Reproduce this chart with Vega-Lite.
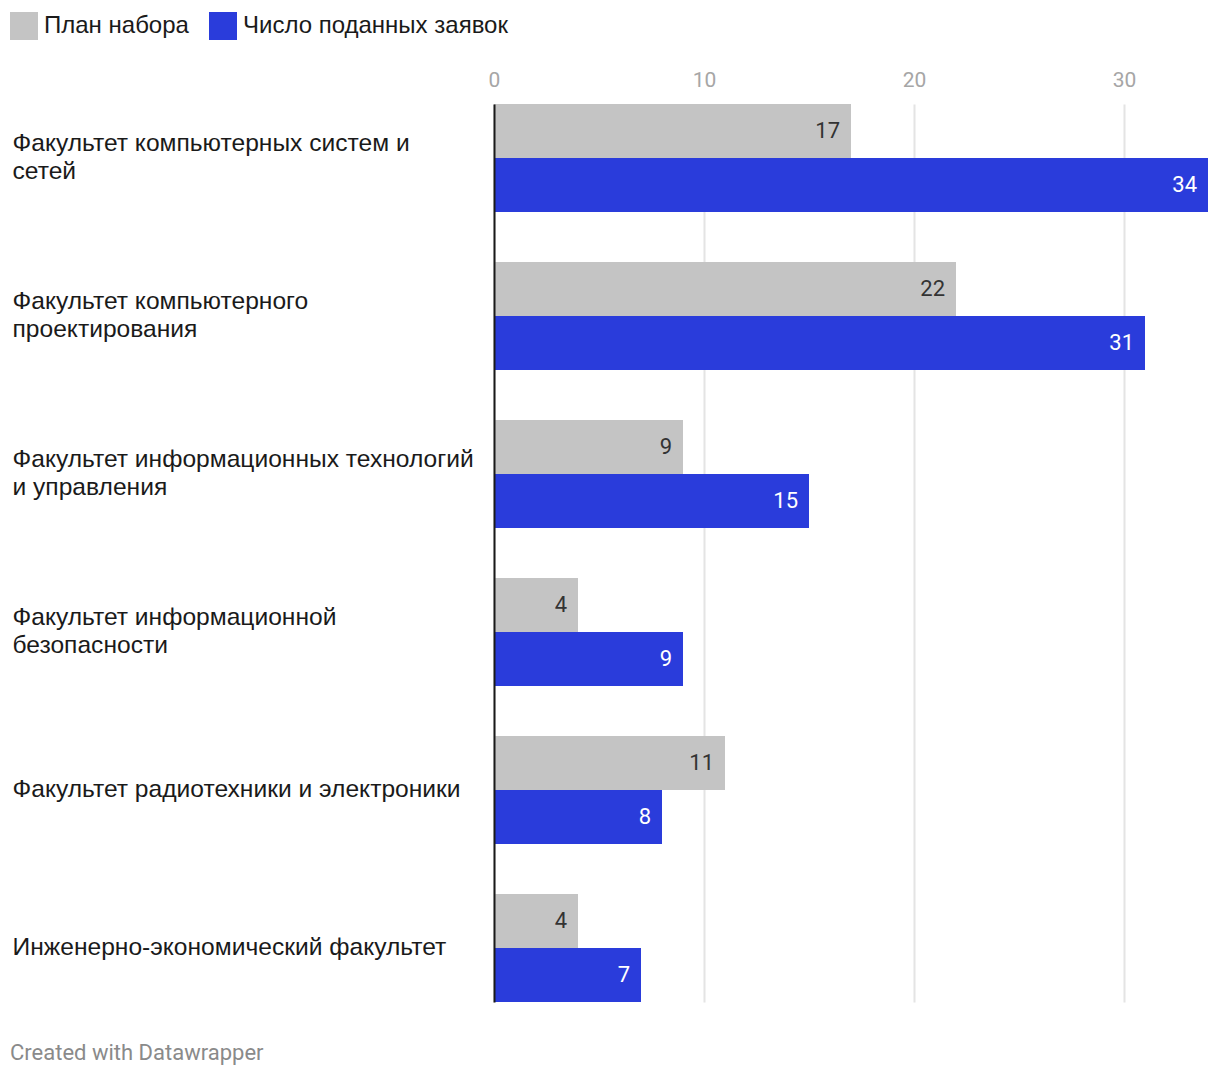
{
  "$schema": "https://vega.github.io/schema/vega-lite/v6.json",
  "autosize": "none",
  "width": 714,
  "height": 898,
  "padding": {"left": 494, "top": 104, "right": 12, "bottom": 78},
  "background": "white",
  "config": {
    "font": "Roboto",
    "view": {"stroke": null}
  },
  "title": {
    "text": "Created with Datawrapper",
    "orient": "bottom",
    "anchor": "start",
    "frame": "bounds",
    "fontSize": 22,
    "fontWeight": "normal",
    "color": "#8a8a8a",
    "font": "Roboto",
    "baseline": "top",
    "offset": 41,
    "dx": 0
  },
  "data": {
    "values": [
      {"faculty": "Факультет компьютерных систем и сетей", "series": "План набора", "value": 17},
      {"faculty": "Факультет компьютерных систем и сетей", "series": "Число поданных заявок", "value": 34},
      {"faculty": "Факультет компьютерного проектирования", "series": "План набора", "value": 22},
      {"faculty": "Факультет компьютерного проектирования", "series": "Число поданных заявок", "value": 31},
      {"faculty": "Факультет информационных технологий и управления", "series": "План набора", "value": 9},
      {"faculty": "Факультет информационных технологий и управления", "series": "Число поданных заявок", "value": 15},
      {"faculty": "Факультет информационной безопасности", "series": "План набора", "value": 4},
      {"faculty": "Факультет информационной безопасности", "series": "Число поданных заявок", "value": 9},
      {"faculty": "Факультет радиотехники и электроники", "series": "План набора", "value": 11},
      {"faculty": "Факультет радиотехники и электроники", "series": "Число поданных заявок", "value": 8},
      {"faculty": "Инженерно-экономический факультет", "series": "План набора", "value": 4},
      {"faculty": "Инженерно-экономический факультет", "series": "Число поданных заявок", "value": 7}
    ]
  },
  "encoding": {
    "y": {
      "field": "faculty",
      "type": "nominal",
      "sort": null,
      "title": null,
      "scale": {"paddingInner": 0.3165, "paddingOuter": 0},
      "axis": {
        "orient": "left",
        "zindex": 2,
        "domain": true,
        "domainColor": "#1a1a1a",
        "domainWidth": 2,
        "ticks": false,
        "grid": false,
        "labelAlign": "left",
        "labelBaseline": "middle",
        "labelPadding": 482,
        "labelFontSize": 24.6,
        "labelColor": "#1a1a1a",
        "labelFont": "Liberation Sans",
        "labelLimit": 0,
        "labelLineHeight": 28,
        "labelOffset": {
          "condition": {"test": "datum.label == 'Факультет радиотехники и электроники' || datum.label == 'Инженерно-экономический факультет'", "value": 0},
          "value": -14
        },
        "labelExpr": "datum.label == 'Факультет компьютерных систем и сетей' ? ['Факультет компьютерных систем и', 'сетей'] : datum.label == 'Факультет компьютерного проектирования' ? ['Факультет компьютерного', 'проектирования'] : datum.label == 'Факультет информационных технологий и управления' ? ['Факультет информационных технологий', 'и управления'] : datum.label == 'Факультет информационной безопасности' ? ['Факультет информационной', 'безопасности'] : datum.label"
      }
    },
    "yOffset": {
      "field": "series",
      "type": "nominal",
      "sort": ["План набора", "Число поданных заявок"],
      "scale": {"paddingInner": 0, "paddingOuter": 0}
    },
    "x": {
      "field": "value",
      "type": "quantitative",
      "title": null,
      "scale": {"domain": [0, 34], "nice": false},
      "axis": {
        "orient": "top",
        "zindex": 0,
        "values": [0, 10, 20, 30],
        "domain": false,
        "ticks": false,
        "grid": true,
        "gridColor": "#e4e4e4",
        "gridWidth": 2,
        "labelFontSize": 21,
        "labelColor": "#a6a6a6",
        "labelFont": "Roboto",
        "labelPadding": 14,
        "labelFlush": false
      }
    }
  },
  "layer": [
    {
      "mark": {"type": "bar", "cornerRadius": 0},
      "encoding": {
        "color": {
          "field": "series",
          "type": "nominal",
          "sort": ["План набора", "Число поданных заявок"],
          "scale": {"domain": ["План набора", "Число поданных заявок"], "range": ["#c4c4c4", "#2a3cdb"]},
          "legend": {
            "title": null,
            "orient": "none",
            "legendX": -484,
            "legendY": -92,
            "direction": "horizontal",
            "symbolType": "square",
            "symbolSize": 784,
            "symbolStrokeWidth": 0,
            "symbolOpacity": 1,
            "labelFontSize": 24,
            "labelColor": "#1a1a1a",
            "labelFont": "Liberation Sans",
            "labelOffset": 6,
            "columnPadding": 20,
            "labelLimit": 0
          }
        }
      }
    },
    {
      "mark": {"type": "text", "align": "right", "baseline": "middle", "dx": -11, "fontSize": 22, "font": "Roboto"},
      "encoding": {
        "text": {"field": "value", "type": "quantitative"},
        "color": {
          "condition": {"test": "datum.series == 'План набора'", "value": "#333333"},
          "value": "#ffffff"
        }
      }
    }
  ]
}
